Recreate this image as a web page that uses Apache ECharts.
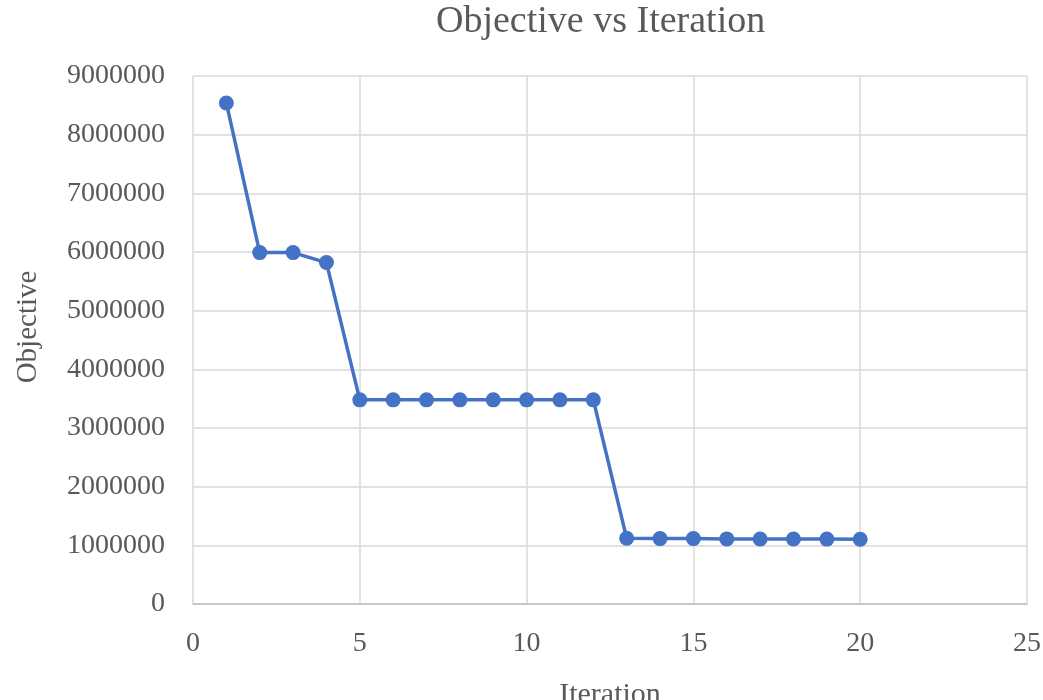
<!DOCTYPE html>
<html>
<head>
<meta charset="utf-8">
<script src="https://cdn.jsdelivr.net/npm/echarts@6/dist/echarts.min.js"></script>
<style>
  html, body { margin: 0; padding: 0; background: #fff; }
  #chart { width: 1043px; height: 700px; }
</style>
</head>
<body>
<div id="chart"></div>
<script>
// Objective value recorded at each optimisation iteration
const iterations = [1, 2, 3, 4, 5, 6, 7, 8, 9, 10, 11, 12, 13, 14, 15, 16, 17, 18, 19, 20];
const objective = [8540000, 5990000, 5990000, 5820000, 3480000, 3480000, 3480000, 3480000, 3480000, 3480000,
                   3480000, 3480000, 1120000, 1115000, 1115000, 1110000, 1108000, 1108000, 1106000, 1104000];

const chartTitle = 'Objective vs Iteration';
const xName = 'Iteration';
const yName = 'Objective';

const serif = '"Liberation Serif", "DejaVu Serif", serif';
const textColor = '#595959';

const chart = echarts.init(document.getElementById('chart'));
chart.setOption({
  animation: false,
  title: {
    text: chartTitle,
    left: 431,
    top: -2,
    textStyle: { fontFamily: serif, fontSize: 38, fontWeight: 'normal', color: textColor }
  },
  grid: { left: 193, right: 16, top: 76, bottom: 96, containLabel: false, outerBoundsMode: 'none' },
  xAxis: {
    type: 'value',
    min: 0, max: 25, interval: 5,
    name: xName,
    nameLocation: 'middle',
    nameGap: 76,
    nameTextStyle: { fontFamily: serif, fontSize: 30, color: textColor },
    axisLine: { show: true, lineStyle: { color: '#bfbfbf', width: 1.5 } },
    axisTick: { show: false },
    axisLabel: { fontFamily: serif, fontSize: 28, color: textColor, margin: 26 },
    splitLine: { show: true, lineStyle: { color: '#d9d9d9', width: 1.5 } }
  },
  yAxis: {
    type: 'value',
    min: 0, max: 9000000, interval: 1000000,
    name: yName,
    nameLocation: 'middle',
    nameGap: 150,
    nameTextStyle: { fontFamily: serif, fontSize: 29, color: textColor, padding: [0, 0, 0, 26] },
    axisLine: { show: false },
    axisTick: { show: false },
    axisLabel: {
      fontFamily: serif, fontSize: 28, color: textColor, margin: 28,
      formatter: v => String(v)
    },
    splitLine: { show: true, lineStyle: { color: '#d9d9d9', width: 1.5 } }
  },
  series: [{
    type: 'line',
    data: iterations.map((it, i) => [it, objective[i]]),
    symbol: 'circle',
    symbolSize: 15,
    lineStyle: { color: '#4472C4', width: 3.5 },
    itemStyle: { color: '#4472C4' }
  }]
});
</script>
</body>
</html>
